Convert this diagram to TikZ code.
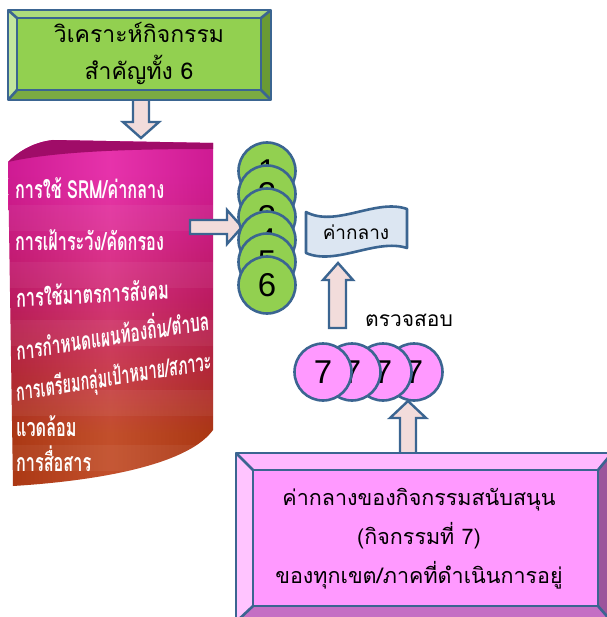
\documentclass[tikz,border=0pt]{standalone}
\usepackage{fontspec}
\newfontfamily\thai[Script=Thai]{Loma}
\newfontfamily\digits{Liberation Sans}
\usetikzlibrary{calc}
\definecolor{bord}{HTML}{3B6591}
\definecolor{gface}{HTML}{92D050}
\definecolor{gtop}{HTML}{AEDC7C}
\definecolor{gleft}{HTML}{C3E69E}
\definecolor{gright}{HTML}{6A9A34}
\definecolor{gbot}{HTML}{7BAA42}
\definecolor{pface}{HTML}{FF99FF}
\definecolor{ptopc}{HTML}{FFB8FF}
\definecolor{pleft}{HTML}{FFC4FF}
\definecolor{pright}{HTML}{9C559C}
\definecolor{pbotc}{HTML}{C46FC4}
\definecolor{arrfill}{HTML}{F2DCDB}
\definecolor{flagfill}{HTML}{DCE6F2}
\definecolor{cA}{HTML}{E41CA2}
\definecolor{cB}{HTML}{DC1C8C}
\definecolor{cC}{HTML}{CE1C68}
\definecolor{cD}{HTML}{C42A3C}
\definecolor{cE}{HTML}{BC3C14}
\definecolor{ctop}{HTML}{A00C68}
\pgfdeclareverticalshading{panelshade}{100bp}{color(0bp)=(cE); color(25bp)=(cE); color(33bp)=(cE); color(42bp)=(cD); color(52bp)=(cC); color(62bp)=(cB); color(70bp)=(cA); color(75bp)=(cA); color(100bp)=(cA)}
\tikzset{
  edge/.style={draw=bord, line width=2.6pt, line join=round},
  blockarrow/.style={fill=arrfill, draw=bord, line width=2.4pt, line join=miter},
  gcirc/.style={circle, minimum size=57, inner sep=0, fill=gface, draw=bord, line width=2.6pt, font=\digits\fontsize{33}{33}\selectfont},
  pcirc/.style={circle, minimum size=57, inner sep=0, fill=pface, draw=bord, line width=2.6pt, font=\digits\fontsize{33}{33}\selectfont},
  ptext/.style={text=white, anchor=west, inner sep=0, font=\thai\bfseries\fontsize{25}{25}\selectfont, xscale=0.65},
  boxtext/.style={inner sep=0, align=center, text=black},
}
\begin{document}
\begin{tikzpicture}[x=1pt,y=-1pt]
\useasboundingbox[fill=white] (0,0) rectangle (606,617);

% arrows below boxes
\draw[blockarrow] (133,96) -- (133,122) -- (123,122) -- (141,138) -- (159,122) -- (149,122) -- (149,96) -- cycle;
\draw[blockarrow] (400,460) -- (400,418) -- (390,418) -- (408,401) -- (426,418) -- (416,418) -- (416,460) -- cycle;

% green bevel box
\fill[gtop] (8,10) -- (271,10) -- (261,18) -- (17,18) -- cycle;
\fill[gleft] (8,10) -- (17,18) -- (17,90) -- (8,100) -- cycle;
\fill[gright] (271,10) -- (271,100) -- (261,90) -- (261,18) -- cycle;
\fill[gbot] (8,100) -- (17,90) -- (261,90) -- (271,100) -- cycle;
\node[boxtext, fill=gface, minimum width=244, minimum height=72, font=\thai\fontsize{23}{37}\selectfont] (topbox) at (139,54) {วิเคราะห์กิจกรรม\\สำคัญทั้ง 6};
\draw[edge] (8,10) rectangle (271,100);
\draw[edge] (17,18) rectangle (261,90);
\draw[edge] (8,10) -- (17,18) (271,10) -- (261,18) (271,100) -- (261,90) (8,100) -- (17,90);

% panel
\begin{scope}
\clip (8,162) .. controls (20,150) and (35,142) .. (53,140) -- (213,143) -- (213,430) .. controls (190,462) and (110,480) .. (13,486) -- cycle;
\shade[shading=panelshade] (0,138) rectangle (220,490);
\shade[left color=black, right color=black, middle color=white, opacity=0.10] (0,138) rectangle (220,490);
\foreach \yy in {205,262,320,390,445} {\fill[white, opacity=0.05] (0,\yy) rectangle (220,\yy+26);}
\fill[ctop] (8,162) .. controls (20,150) and (35,142) .. (53,140) -- (213,143) -- (213,149) .. controls (150,149) and (60,150) .. (8,162) -- cycle;
\end{scope}
\node[ptext] (t1) at (15,188) {การใช้ SRM/ค่ากลาง};
\node[ptext] (t2) at (15,240) {การเฝ้าระวัง/คัดกรอง};
\node[ptext, rotate=2] (t3) at (16,297) {การใช้มาตรการสังคม};
\node[ptext, rotate=6, xscale=0.95] (t4) at (16,348) {การกำหนดแผนท้องถิ่น/ตำบล};
\node[ptext, rotate=6, xscale=0.89] (t5) at (16,394) {การเตรียมกลุ่มเป้าหมาย/สภาวะ};
\node[ptext] (t6) at (16,426) {แวดล้อม};
\node[ptext] (t7) at (16,459) {การสื่อสาร};

% right arrow
\draw[blockarrow] (190,220) -- (227,220) -- (227,210) -- (242,227) -- (227,244) -- (227,234) -- (190,234) -- cycle;

% green circles
\foreach \i/\yy in {1/171,2/194,3/217,4/240,5/262,6/285} {\node[gcirc] (g\i) at (267,\yy) {\i};}

% flag
\draw[edge, fill=flagfill] (306,212) .. controls (336,228) and (376,198) .. (407,209) -- (407,248) .. controls (376,238) and (336,266) .. (306,253) -- cycle;
\node[boxtext, font=\thai\fontsize{19}{19}\selectfont] (flag) at (356,232) {ค่ากลาง};

% up arrow to flag
\draw[blockarrow] (329,328) -- (329,280) -- (323,280) -- (338,263) -- (353,280) -- (346,280) -- (346,328) -- cycle;
\node[boxtext, font=\thai\fontsize{21}{21}\selectfont] (check) at (409,320) {ตรวจสอบ};

% pink circles
\foreach \i/\xx in {4/414,3/383,2/352,1/323} {\node[pcirc] (p\i) at (\xx,372) {7};}

% pink bevel box
\fill[ptopc] (236,453) -- (612,453) -- (598,470) -- (253,470) -- cycle;
\fill[pleft] (236,453) -- (253,470) -- (253,606) -- (236,622) -- cycle;
\fill[pright] (612,453) -- (612,622) -- (598,606) -- (598,470) -- cycle;
\fill[pbotc] (236,622) -- (253,606) -- (598,606) -- (612,622) -- cycle;
\node[boxtext, fill=pface, minimum width=345, minimum height=136] (botbox) at (425.5,538) {};
\node[boxtext, font=\thai\fontsize{21.5}{39}\selectfont] (bottxt) at (419,539) {ค่ากลางของกิจกรรมสนับสนุน\\(กิจกรรมที่ 7)\\ของทุกเขต/ภาคที่ดำเนินการอยู่};
\draw[edge] (236,453) rectangle (612,622);
\draw[edge] (253,470) rectangle (598,606);
\draw[edge] (236,453) -- (253,470) (612,453) -- (598,470) (612,622) -- (598,606) (236,622) -- (253,606);
\end{tikzpicture}
\end{document}
